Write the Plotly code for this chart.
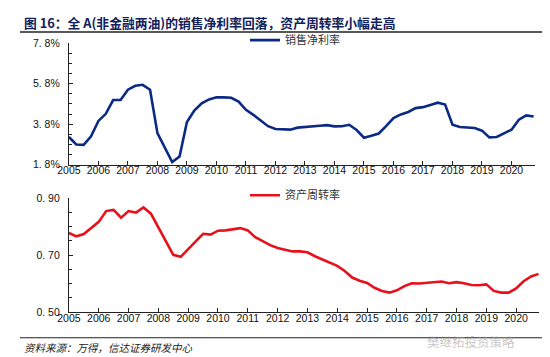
import plotly.graph_objects as go

# Quarterly periods 2005Q1 .. 2020Q4
quarters = [f"{y}Q{q}" for y in range(2005, 2021) for q in range(1, 5)]

net_margin = [3.17, 2.80, 2.78, 3.20, 3.96, 4.31, 4.99, 4.99,
              5.50, 5.69, 5.74, 5.50, 3.36, 2.64, 1.93, 2.21,
              3.91, 4.47, 4.83, 5.02, 5.13, 5.12, 5.10, 4.91,
              4.51, 4.26, 3.96, 3.70, 3.56, 3.53, 3.53, 3.63,
              3.67, 3.69, 3.72, 3.75, 3.69, 3.70, 3.77, 3.51,
              3.13, 3.23, 3.34, 3.70, 4.10, 4.28, 4.40, 4.59,
              4.64, 4.75, 4.86, 4.77, 3.77, 3.66, 3.63, 3.61,
              3.48, 3.15, 3.17, 3.36, 3.53, 4.02, 4.23, 4.18]

asset_turnover = [0.778, 0.766, 0.774, 0.795, 0.817, 0.855, 0.859, 0.832,
                  0.855, 0.850, 0.868, 0.846, 0.795, 0.749, 0.701, 0.694,
                  0.721, 0.749, 0.775, 0.772, 0.786, 0.787, 0.790, 0.795,
                  0.787, 0.763, 0.749, 0.735, 0.725, 0.718, 0.713, 0.713,
                  0.710, 0.696, 0.685, 0.673, 0.662, 0.644, 0.621, 0.610,
                  0.602, 0.585, 0.574, 0.568, 0.576, 0.591, 0.601, 0.600,
                  0.603, 0.606, 0.607, 0.601, 0.605, 0.601, 0.595, 0.594,
                  0.597, 0.574, 0.568, 0.568, 0.583, 0.608, 0.625, 0.634]

year_ticks = list(range(2005, 2021))
top_ticks = [1.8, 3.8, 5.8, 7.8]
top_ticktext = ["1. 8%", "3. 8%", "5. 8%", "7. 8%"]
bot_ticks = [0.5, 0.7, 0.9]
bot_ticktext = ["0. 50", "0. 70", "0. 90"]

title_text = "图 16：全 A(非金融两油)的销售净利率回落，资产周转率小幅走高"
source_text = "资料来源：万得，信达证券研发中心"
watermark_text = "樊继拓投资策略"

xnum = [int(q[:4]) + (int(q[-1]) - 1) / 4 for q in quarters]

W, H = 550, 357
def px_x(v):
    return v / W
def px_y(v):
    return 1 - v / H

CJK = "Noto Sans CJK SC, sans-serif"
LAT = "Liberation Sans, Arial, sans-serif"
axis_col = "#222222"

fig = go.Figure()
fig.add_trace(go.Scatter(x=xnum, y=net_margin, mode="lines", name="销售净利率",
                         line=dict(color="#0a2a84", width=2.6),
                         xaxis="x", yaxis="y", legend="legend"))
fig.add_trace(go.Scatter(x=xnum, y=asset_turnover, mode="lines", name="资产周转率",
                         line=dict(color="#e8101a", width=2.6),
                         xaxis="x2", yaxis="y2", legend="legend2"))

common_x = dict(tickmode="array", tickvals=year_ticks, ticks="inside", ticklen=4,
                tickcolor=axis_col, showline=True, linecolor=axis_col, linewidth=1,
                showgrid=False, zeroline=False, range=[2005, 2020.78],
                ticklabelstandoff=-4,
                tickfont=dict(family=LAT, size=10.5, color="#111111"))
common_y = dict(tickmode="array", ticks="inside", ticklen=4, tickcolor=axis_col,
                showline=True, linecolor=axis_col, linewidth=1, showgrid=False,
                zeroline=False, ticklabelstandoff=6,
                tickfont=dict(family=LAT, size=10.5, color="#111111"))

fig.update_layout(
    width=W, height=H, margin=dict(l=0, r=0, t=0, b=0),
    paper_bgcolor="white", plot_bgcolor="white",
    xaxis=dict(domain=[px_x(50), px_x(526)], anchor="y", **common_x),
    yaxis=dict(domain=[px_y(156), px_y(30)], anchor="x", range=[1.8, 7.8],
               tickvals=top_ticks, ticktext=top_ticktext,
               minor=dict(ticks="inside", ticklen=3, tick0=1.8, dtick=0.5, tickcolor=axis_col),
               **common_y),
    xaxis2=dict(domain=[px_x(50), px_x(531)], anchor="y2", **common_x),
    yaxis2=dict(domain=[px_y(308.3), px_y(190.7)], anchor="x2", range=[0.5, 0.9],
                tickvals=bot_ticks, ticktext=bot_ticktext,
                minor=dict(ticks="inside", ticklen=3, tick0=0.5, dtick=0.05, tickcolor=axis_col),
                **common_y),
    legend=dict(x=px_x(230), y=px_y(42), xanchor="left", yanchor="bottom",
                bgcolor="rgba(0,0,0,0)", font=dict(family=CJK, size=11, color="#333333"),
                itemwidth=30, tracegroupgap=0),
    legend2=dict(x=px_x(230), y=px_y(202.5), xanchor="left", yanchor="bottom",
                 bgcolor="rgba(0,0,0,0)", font=dict(family=CJK, size=11, color="#333333"),
                 itemwidth=30, tracegroupgap=0),
    showlegend=True,
)

fig.add_annotation(text="<b>" + title_text + "</b>", xref="paper", yref="paper",
                   x=px_x(2), y=px_y(9), xanchor="left", yanchor="middle", showarrow=False,
                   font=dict(family=CJK, size=12.8, color="#13215a"))
fig.add_shape(type="line", xref="paper", yref="paper", x0=0, x1=px_x(543),
              y0=px_y(18.5), y1=px_y(18.5), line=dict(color="#222222", width=1.5))
fig.add_shape(type="line", xref="paper", yref="paper", x0=0, x1=px_x(540),
              y0=px_y(335), y1=px_y(335), line=dict(color="#222222", width=1.2))
fig.add_annotation(text="<i>" + source_text + "</i>", xref="paper", yref="paper",
                   x=px_x(2), y=px_y(345), xanchor="left", yanchor="middle", showarrow=False,
                   font=dict(family=CJK, size=10.5, color="#222222"))
fig.add_annotation(text=watermark_text, xref="paper", yref="paper",
                   x=px_x(508), y=px_y(339), xanchor="right", yanchor="middle", showarrow=False,
                   font=dict(family=CJK, size=12.5, color="rgba(150,150,150,0.55)"))

fig.write_html("out.html")
